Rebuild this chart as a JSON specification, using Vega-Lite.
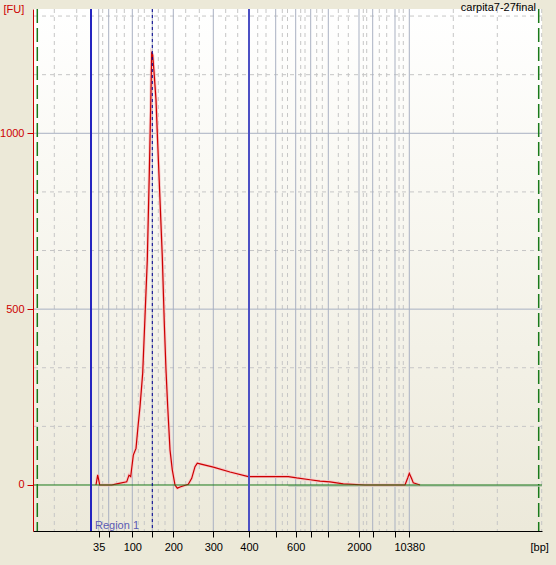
{
  "$schema": "https://vega.github.io/schema/vega-lite/v6.json",
  "width": 509,
  "height": 522,
  "autosize": {"type": "none"},
  "padding": {"left": 33, "top": 9, "right": 14, "bottom": 34},
  "background": "#ECE9D8",
  "config": {"view": {"stroke": null}, "font": "Liberation Sans"},
  "resolve": {"axis": {"x": "independent", "y": "independent"}},
  "datasets": {
    "trace": [
      {"t": 32.6, "fu": 0}, {"t": 32.94, "fu": 29}, {"t": 33.34, "fu": 0}, {"t": 35.74, "fu": 0},
      {"t": 36.74, "fu": 3}, {"t": 38.74, "fu": 9}, {"t": 39.2, "fu": 28}, {"t": 39.54, "fu": 24},
      {"t": 40.06, "fu": 85}, {"t": 40.6, "fu": 104}, {"t": 41.06, "fu": 175}, {"t": 41.4, "fu": 223},
      {"t": 41.94, "fu": 318}, {"t": 42.4, "fu": 479}, {"t": 42.86, "fu": 640}, {"t": 43.26, "fu": 886},
      {"t": 43.54, "fu": 1076}, {"t": 43.74, "fu": 1228}, {"t": 43.94, "fu": 1223}, {"t": 44.2, "fu": 1175},
      {"t": 44.6, "fu": 1095}, {"t": 44.94, "fu": 972}, {"t": 45.4, "fu": 810}, {"t": 45.86, "fu": 649},
      {"t": 46.26, "fu": 460}, {"t": 46.6, "fu": 327}, {"t": 46.94, "fu": 223}, {"t": 47.4, "fu": 100},
      {"t": 47.86, "fu": 43}, {"t": 48.4, "fu": 0}, {"t": 48.86, "fu": -9}, {"t": 49.54, "fu": -5},
      {"t": 51.06, "fu": 2}, {"t": 51.74, "fu": 19}, {"t": 52.4, "fu": 52}, {"t": 52.86, "fu": 62},
      {"t": 53.4, "fu": 60}, {"t": 56.06, "fu": 51}, {"t": 59.4, "fu": 37}, {"t": 63.06, "fu": 24},
      {"t": 71.06, "fu": 24}, {"t": 72.74, "fu": 20}, {"t": 75.4, "fu": 15}, {"t": 77.4, "fu": 11},
      {"t": 79.4, "fu": 9}, {"t": 82.06, "fu": 3}, {"t": 86.4, "fu": 0}, {"t": 94.4, "fu": 0},
      {"t": 94.94, "fu": 20}, {"t": 95.26, "fu": 33}, {"t": 95.74, "fu": 18}, {"t": 96.06, "fu": 6},
      {"t": 97.4, "fu": 0}
    ],
    "ladder": [
      {"bp": 35, "t": 33.14}, {"bp": 50, "t": 35.14}, {"bp": 100, "t": 39.86}, {"bp": 150, "t": 43.86},
      {"bp": 200, "t": 48.06}, {"bp": 300, "t": 56.06}, {"bp": 400, "t": 63.2}, {"bp": 500, "t": 68.54},
      {"bp": 600, "t": 72.54}, {"bp": 700, "t": 75.54}, {"bp": 1000, "t": 79.06}, {"bp": 2000, "t": 85.2},
      {"bp": 3000, "t": 87.94}, {"bp": 7000, "t": 92.4}, {"bp": 10380, "t": 95.26}
    ],
    "tgrid": [
      {"t": 24.26}, {"t": 28.74}, {"t": 33.94}, {"t": 36.74}, {"t": 38.26}, {"t": 41.06}, {"t": 42.26},
      {"t": 45.06}, {"t": 46.4}, {"t": 50.54}, {"t": 53.26}, {"t": 58.54}, {"t": 60.94}, {"t": 64.94},
      {"t": 66.6}, {"t": 69.86}, {"t": 70.9}, {"t": 73.54}, {"t": 74.4}, {"t": 76.74}, {"t": 77.86},
      {"t": 81.06}, {"t": 83.06}, {"t": 86.06}, {"t": 86.74}, {"t": 89.26}, {"t": 90.74}, {"t": 93.2},
      {"t": 94.06}, {"t": 104.06}, {"t": 112.86}, {"t": 121.74}
    ],
    "fugrid": [
      {"fu": 166.67}, {"fu": 333.33}, {"fu": 666.67}, {"fu": 833.33}, {"fu": 1166.67}, {"fu": 1333.33}
    ],
    "fumajor": [{"fu": 500}, {"fu": 1000}],
    "limits": [{"t": 20.86}, {"t": 121.14}],
    "region": [{"t": 31.6, "edge": "start"}, {"t": 63.2, "edge": "end"}],
    "peak": [{"t": 43.86}]
  },
  "layer": [
    {
      "data": {"values": [{}]},
      "mark": {"type": "rect", "fill": {"gradient": "linear", "x1": 0, "y1": 0, "x2": 0, "y2": 1, "stops": [{"offset": 0, "color": "#FFFFFF"}, {"offset": 0.35, "color": "#F9F8F2"}, {"offset": 1, "color": "#ECE9DA"}]}},
      "encoding": {
        "x": {"datum": 20, "type": "quantitative", "scale": {"domain": [20, 121.8], "nice": false, "zero": false}, "axis": null},
        "x2": {"datum": 121.8},
        "y": {"datum": -130.8, "type": "quantitative", "scale": {"domain": [-130.8, 1353.4], "nice": false, "zero": false}, "axis": null},
        "y2": {"datum": 1353.4}
      }
    },
    {
      "data": {"name": "tgrid"},
      "mark": {"type": "rule", "color": "#C6C6C6", "strokeWidth": 1, "strokeDash": [4, 4]},
      "encoding": {"x": {"field": "t", "type": "quantitative", "scale": {"domain": [20, 121.8], "nice": false, "zero": false}, "axis": null}}
    },
    {
      "data": {"name": "fugrid"},
      "mark": {"type": "rule", "color": "#C6C6C6", "strokeWidth": 1, "strokeDash": [4, 4]},
      "encoding": {"y": {"field": "fu", "type": "quantitative", "scale": {"domain": [-130.8, 1353.4], "nice": false, "zero": false}, "axis": null}}
    },
    {
      "data": {"name": "ladder"},
      "mark": {"type": "rule", "color": "#A9B1C2", "strokeWidth": 1},
      "encoding": {"x": {"field": "t", "type": "quantitative", "scale": {"domain": [20, 121.8], "nice": false, "zero": false}, "axis": null}}
    },
    {
      "data": {"name": "fumajor"},
      "mark": {"type": "rule", "color": "#A9B1C2", "strokeWidth": 1},
      "encoding": {"y": {"field": "fu", "type": "quantitative", "scale": {"domain": [-130.8, 1353.4], "nice": false, "zero": false}, "axis": null}}
    },
    {
      "data": {"name": "limits"},
      "mark": {"type": "rule", "color": "#1A7A1A", "strokeWidth": 1.5, "strokeDash": [14, 5]},
      "encoding": {"x": {"field": "t", "type": "quantitative", "scale": {"domain": [20, 121.8], "nice": false, "zero": false}, "axis": null}}
    },
    {
      "data": {"values": [{}]},
      "mark": {"type": "rule", "color": "#B8C8B4", "strokeWidth": 1.5},
      "encoding": {
        "x": {"datum": 71.06, "type": "quantitative", "scale": {"domain": [20, 121.8], "nice": false, "zero": false}, "axis": null},
        "x2": {"datum": 121.8},
        "y": {"datum": -3, "type": "quantitative", "scale": {"domain": [-130.8, 1353.4], "nice": false, "zero": false}, "axis": null}
      }
    },
    {
      "data": {"name": "trace"},
      "mark": {"type": "line", "color": "#F6C8C8", "strokeWidth": 3, "interpolate": "linear"},
      "encoding": {
        "x": {"field": "t", "type": "quantitative", "scale": {"domain": [20, 121.8], "nice": false, "zero": false}, "axis": null},
        "y": {"field": "fu", "type": "quantitative", "scale": {"domain": [-130.8, 1353.4], "nice": false, "zero": false}, "axis": null}
      }
    },
    {
      "data": {"name": "trace"},
      "mark": {"type": "line", "color": "#CC0000", "strokeWidth": 1.2, "interpolate": "linear"},
      "encoding": {
        "x": {
          "field": "t", "type": "quantitative",
          "scale": {"domain": [20, 121.8], "nice": false, "zero": false},
          "axis": {
            "values": [33.14, 35.14, 39.86, 43.86, 48.06, 56.06, 63.2, 68.54, 72.54, 75.54, 79.06, 85.2, 87.94, 92.4, 95.26],
            "labelExpr": "round(datum.value*100)==3314?'35':round(datum.value*100)==3986?'100':round(datum.value*100)==4806?'200':round(datum.value*100)==5606?'300':round(datum.value*100)==6320?'400':round(datum.value*100)==7254?'600':round(datum.value*100)==8520?'2000':round(datum.value*100)==9526?'10380':''",
            "grid": false,
            "domainColor": "#000000", "domainWidth": 1,
            "tickColor": "#000000", "tickSize": 6, "tickWidth": 1,
            "labelColor": "#000000", "labelFont": "Liberation Sans", "labelFontSize": 11, "labelPadding": 4,
            "labelOverlap": false, "labelFlush": false,
            "title": "[bp]", "titleFont": "Liberation Sans", "titleFontSize": 11, "titleFontWeight": "normal", "titleColor": "#000000",
            "titleX": 497, "titleY": 19, "titleAlign": "left", "titleBaseline": "alphabetic", "titleAngle": 0,
            "zindex": 1
          }
        },
        "y": {
          "field": "fu", "type": "quantitative",
          "scale": {"domain": [-130.8, 1353.4], "nice": false, "zero": false},
          "axis": {
            "values": [0, 500, 1000], "format": "d",
            "grid": false,
            "domainColor": "#CC0000", "domainWidth": 1,
            "tickColor": "#CC0000", "tickSize": 6, "tickWidth": 1,
            "labelColor": "#CC0000", "labelFont": "Liberation Sans", "labelFontSize": 11, "labelPadding": 3,
            "title": "[FU]", "titleFont": "Liberation Sans", "titleFontSize": 11, "titleFontWeight": "normal", "titleColor": "#CC0000",
            "titleX": -30, "titleY": 3, "titleAlign": "left", "titleBaseline": "alphabetic", "titleAngle": 0,
            "zindex": 1
          }
        }
      }
    },
    {
      "data": {"values": [{}]},
      "mark": {"type": "rule", "color": "#1A7A1A", "strokeWidth": 1},
      "encoding": {
        "y": {"datum": 0, "type": "quantitative", "scale": {"domain": [-130.8, 1353.4], "nice": false, "zero": false}, "axis": null}
      }
    },
    {
      "data": {"name": "region"},
      "mark": {"type": "rule", "strokeWidth": 2},
      "encoding": {
        "x": {"field": "t", "type": "quantitative", "scale": {"domain": [20, 121.8], "nice": false, "zero": false}, "axis": null},
        "color": {"field": "edge", "type": "nominal", "scale": {"domain": ["start", "end"], "range": ["#2424C0", "#4C50C4"]}, "legend": null}
      }
    },
    {
      "data": {"name": "peak"},
      "mark": {"type": "rule", "color": "#000090", "strokeWidth": 1, "strokeDash": [3, 3]},
      "encoding": {"x": {"field": "t", "type": "quantitative", "scale": {"domain": [20, 121.8], "nice": false, "zero": false}, "axis": null}}
    },
    {
      "data": {"values": [{"label": "Region 1"}]},
      "mark": {"type": "text", "color": "#5A5AB4", "font": "Liberation Sans", "fontSize": 11, "align": "left", "baseline": "alphabetic", "dx": 4, "dy": -2},
      "encoding": {
        "x": {"datum": 31.6, "type": "quantitative", "scale": {"domain": [20, 121.8], "nice": false, "zero": false}, "axis": null},
        "y": {"datum": -130.8, "type": "quantitative", "scale": {"domain": [-130.8, 1353.4], "nice": false, "zero": false}, "axis": null},
        "text": {"field": "label"}
      }
    },
    {
      "data": {"values": [{"label": "carpita7-27final"}]},
      "mark": {"type": "text", "color": "#000000", "font": "Liberation Sans", "fontSize": 11, "align": "right", "baseline": "alphabetic", "dx": -6, "dy": 2},
      "encoding": {
        "x": {"datum": 121.8, "type": "quantitative", "scale": {"domain": [20, 121.8], "nice": false, "zero": false}, "axis": null},
        "y": {"datum": 1353.4, "type": "quantitative", "scale": {"domain": [-130.8, 1353.4], "nice": false, "zero": false}, "axis": null},
        "text": {"field": "label"}
      }
    }
  ]
}
